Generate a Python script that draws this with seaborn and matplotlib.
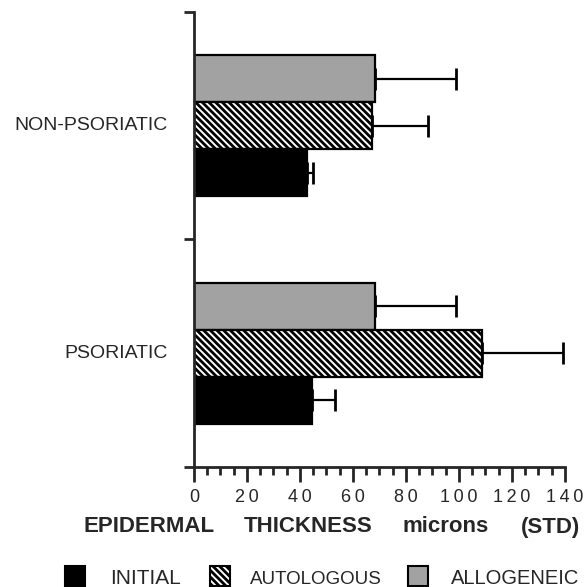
import numpy as np
import pandas as pd
import matplotlib
matplotlib.use("Agg")
import matplotlib.pyplot as plt
import seaborn as sns
from matplotlib.patches import Rectangle
from matplotlib.ticker import MultipleLocator

# values (microns)
groups = ["NON-PSORIATIC", "PSORIATIC"]
treatments = ["ALLOGENEIC", "AUTOLOGOUS", "INITIAL"]
allogeneic = [68.3, 68.3]
autologous = [67.1, 108.6]
initial = [42.7, 44.4]
allogeneic_std = [30.6, 30.6]
autologous_std = [21.4, 30.6]
initial_std = [2.3, 8.7]
xticks = [0, 20, 40, 60, 80, 100, 120, 140]

df = pd.DataFrame({
    "group": groups * 3,
    "treatment": np.repeat(treatments, 2),
    "value": allogeneic + autologous + initial,
    "std": allogeneic_std + autologous_std + initial_std,
})

sns.set_style("ticks")
plt.rcParams["font.family"] = ["Liberation Sans", "DejaVu Sans"]
plt.rcParams["hatch.linewidth"] = 2.0

GRAY = "#a2a2a2"
STRIPES = "\\\\\\\\\\"
colors = {"ALLOGENEIC": GRAY, "AUTOLOGOUS": "white", "INITIAL": "black"}
hatches = {"ALLOGENEIC": None, "AUTOLOGOUS": STRIPES, "INITIAL": None}

fig = plt.figure(figsize=(5.86, 5.87), dpi=100)
ax = fig.add_axes([0.331, 0.2044, 0.633, 0.7752])

sns.barplot(data=df, y="group", x="value", hue="treatment", order=groups,
            hue_order=treatments, orient="h", width=0.62, ax=ax,
            errorbar=None, legend=False,
            palette=[colors[t] for t in treatments],
            edgecolor="black", linewidth=1.6, saturation=1)

for cont, t in zip(ax.containers, treatments):
    sub = df[df["treatment"] == t].set_index("group").loc[groups]
    for bar, s in zip(cont, sub["std"]):
        if hatches[t]:
            bar.set_hatch(hatches[t])
        y = bar.get_y() + bar.get_height() / 2
        ax.errorbar(bar.get_width(), y, xerr=[[0], [s]], fmt="none",
                    ecolor="black", elinewidth=1.6, capsize=8, capthick=2,
                    zorder=1)

ax.set_xlim(0, 140)
ax.set_ylim(1.5, -0.5)
ax.set_xticks(xticks)
ax.xaxis.set_minor_locator(MultipleLocator(5))
ax.set_xticklabels(["\u2009".join(str(v)) for v in xticks], fontsize=13)
ax.set_yticks([-0.5, 0.5, 1.5])
ax.set_yticklabels(["", "", ""])
for i, g in enumerate(groups):
    ax.text(-0.07, i, g, transform=ax.get_yaxis_transform(), ha="right",
            va="center", fontsize=14)
ax.tick_params(axis="x", which="major", length=11, width=2, pad=5)
ax.tick_params(axis="x", which="minor", length=6, width=2)
ax.tick_params(axis="y", which="major", length=7, width=2)
ax.set_ylabel("")
ax.set_xlabel("")
sns.despine(ax=ax)
for s in ["left", "bottom"]:
    ax.spines[s].set_linewidth(2)

# axis title, words spread out as in the original
W, H = 586, 587
for word, xc in [("EPIDERMAL", 149), ("THICKNESS", 308), ("microns", 446), ("(STD)", 551)]:
    fig.text(xc / W, 1 - 527 / H, word, ha="center", va="center",
             fontsize=16, fontweight="bold")

# legend
legend_items = [("INITIAL", 65, 110, "black", None, 15),
                ("AUTOLOGOUS", 210, 250, "white", STRIPES, 13.5),
                ("ALLOGENEIC", 408, 451, GRAY, None, 14.5)]
for label, sx, tx, fc, hatch, fs in legend_items:
    fig.add_artist(Rectangle((sx / W, 1 - 586 / H), 20 / W, 20 / H,
                             transform=fig.transFigure, facecolor=fc,
                             edgecolor="black", hatch=hatch, linewidth=1.5))
    fig.text(tx / W, 1 - 584 / H, label, ha="left", va="baseline", fontsize=fs)

fig.savefig("out.png", dpi=100)
